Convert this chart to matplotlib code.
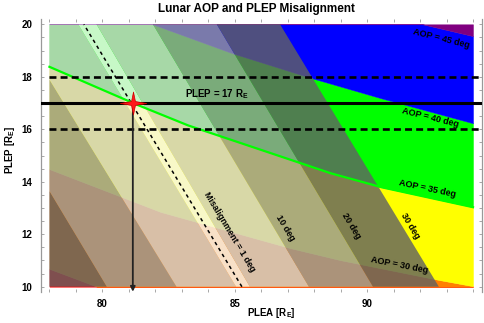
import numpy as np
import matplotlib
matplotlib.use('Agg')
import matplotlib.pyplot as plt
from matplotlib.ticker import MultipleLocator
from matplotlib.path import Path

plt.rcParams['font.family'] = ['Liberation Sans', 'DejaVu Sans']
plt.rcParams['font.weight'] = 'bold'
plt.rcParams['mathtext.fontset'] = 'custom'
plt.rcParams['mathtext.bf'] = 'Liberation Sans:bold'
plt.rcParams['mathtext.rm'] = 'Liberation Sans:bold'
plt.rcParams['mathtext.default'] = 'bf'
plt.rcParams['lines.scale_dashes'] = False

# ---------------- data ----------------
plea_range = [78.0, 94.0]
plep_range = [10.0, 20.0]

# AOP boundary curves (PLEP as a function of PLEA)
aop25_plea = [78.0, 79.8]
aop25_plep = [10.68, 10.0]
aop30_plea = [78.0, 82.2, 87.1, 89.0, 92.75, 94.0]
aop30_plep = [14.48, 12.85, 11.47, 11.01, 10.25, 10.02]
aop35_plea = [78.0, 81.15, 83.2, 88.6, 90.5, 94.0]
aop35_plep = [18.38, 17.0, 16.16, 14.33, 13.8, 13.03]
aop40_plea = [81.9, 84.9, 87.9, 90.5, 94.0]
aop40_plep = [20.0, 18.9, 17.95, 17.19, 16.23]
aop45_plea = [92.1, 94.0]
aop45_plep = [20.0, 19.55]
aop_colors = ['#ff0000', '#ff8000', '#ffff00', '#00ff00', '#0000ff', '#800080']

# misalignment boundaries: PLEA at PLEP=20 (top) and PLEP=10 (bottom)
mis_top = [74.22, 76.72, 79.09, 79.78, 81.91, 84.32, 86.71]
mis_bot = [80.17, 82.80, 85.05, 85.57, 87.80, 90.22, 92.71]
zero_top, zero_bot = 79.30, 85.27
# shades of the bands: left of -20, -20..-10, -10..-1, |m|<1, 1..10, 10..20, 20..30
band_shades = ['#626262', '#989898', '#cfcfcf', '#f7f7f7', '#cfcfcf', '#989898', '#626262']
band_alpha = 0.81

star_plea, star_plep = 81.15, 17.0
plep_lines = [16.0, 17.0, 18.0]

labels = [
    ('AOP = 45 deg', 92.79, 19.44, -14),
    ('AOP = 40 deg', 92.37, 16.46, -14),
    ('AOP = 35 deg', 92.26, 13.72, -12),
    ('AOP = 30 deg', 91.20, 10.82, -11),
    ('Misalignment = 1 deg', 84.78, 12.08, -59),
    ('10 deg', 86.90, 12.23, -59),
    ('20 deg', 89.39, 12.31, -59),
    ('30 deg', 91.62, 12.31, -59),
]

# ---------------- figure ----------------
fig = plt.figure(figsize=(4.85, 3.23), dpi=100)
ax = fig.add_axes([0.0839, 0.0969, 0.9105, 0.8433])
xmin, xmax = 77.67, 94.35
ax.set_xlim(xmin, xmax)
ax.set_ylim(9.81, 20.19)

x = np.linspace(plea_range[0], plea_range[1], 401)
def curve(px, py):
    return np.clip(np.interp(x, px, py), plep_range[0], plep_range[1])

bounds = [np.full_like(x, plep_range[0]),
          curve(aop25_plea, aop25_plep),
          curve(aop30_plea, aop30_plep),
          curve(aop35_plea, aop35_plep),
          curve(aop40_plea, aop40_plep),
          curve(aop45_plea, aop45_plep),
          np.full_like(x, plep_range[1])]
for i, c in enumerate(aop_colors):
    ax.fill_between(x, bounds[i], bounds[i + 1], facecolor=c, edgecolor=c, lw=0.3, zorder=1)

y = np.linspace(plep_range[0], plep_range[1], 401)
def mline(top, bot):
    return bot + (top - bot) * (y - plep_range[0]) / (plep_range[1] - plep_range[0])

lines_x = [np.full_like(y, plea_range[0])] + [mline(t, b) for t, b in zip(mis_top, mis_bot)]
for i, sh in enumerate(band_shades):
    xl = np.clip(lines_x[i], plea_range[0], plea_range[1])
    xr = np.clip(lines_x[i + 1], plea_range[0], plea_range[1])
    ax.fill_betweenx(y, xl, xr, facecolor=sh, alpha=band_alpha, lw=0, zorder=2)

# zero-misalignment dashed line
ax.plot([zero_bot, zero_top], plep_range, color='k', lw=1.1, dashes=(2.5, 2.5), zorder=3)

# AOP = 35 curve
ax.plot(x, bounds[3], color='#00ff00', lw=1.6, zorder=4)

# PLEP lines
ax.axhline(plep_lines[1], color='k', lw=2.2, zorder=5)
for v in (plep_lines[0], plep_lines[2]):
    ax.plot([plea_range[0], xmax], [v, v], color='k', lw=1.9, dashes=(5, 3), zorder=5, clip_on=False)

# arrow and star
ax.annotate('', xy=(star_plea, 9.81), xytext=(star_plea, star_plep),
            arrowprops=dict(arrowstyle='-|>', color='#222222', lw=1.3, mutation_scale=7,
                            shrinkA=0, shrinkB=0), zorder=6)
r = 0.17
star_path = Path([(0, 1), (r, r), (1.15, 0), (r, -r), (0, -1), (-r, -r), (-1.15, 0), (-r, r), (0, 1)],
                 [Path.MOVETO] + [Path.LINETO] * 7 + [Path.CLOSEPOLY])
ax.plot([star_plea], [star_plep], marker=star_path, markersize=19, color='#ff1a1a',
        mec='#d00000', mew=0.5, zorder=7)

for txt, tx, ty, rot in labels:
    ax.text(tx, ty, txt, fontsize=6.5, fontweight='bold', rotation=rot,
            ha='center', va='center', rotation_mode='anchor', zorder=8)
ax.text(84.33, 17.34, 'PLEP = 17 R$_E$', fontsize=7, fontweight='bold',
        ha='center', va='center', zorder=8)

# axes styling
ax.xaxis.set_major_locator(MultipleLocator(5))
ax.xaxis.set_minor_locator(MultipleLocator(1))
ax.yaxis.set_major_locator(MultipleLocator(2))
ax.yaxis.set_minor_locator(MultipleLocator(0.5))
ax.tick_params(which='both', direction='in', length=2, width=0.6, color='#999999',
               top=True, right=True)
ax.tick_params(axis='x', labelsize=7, pad=5)
ax.tick_params(axis='y', labelsize=7, pad=6)
for lab in ax.get_xticklabels() + ax.get_yticklabels():
    lab.set_fontweight('bold')
for s in ('top', 'bottom'):
    ax.spines[s].set_visible(False)
for s in ('left', 'right'):
    ax.spines[s].set_color('#999999')
    ax.spines[s].set_linewidth(0.9)

fig.text(271 / 485, 1 - 313 / 323, 'PLEA [R$_E$]', fontsize=7, fontweight='bold',
         ha='center', va='center')
fig.text(10 / 485, 1 - 150 / 323, 'PLEP [R$_E$]', fontsize=7, fontweight='bold',
         ha='center', va='center', rotation=90)
fig.text(256 / 485, 1 - 9 / 323, 'Lunar AOP and PLEP Misalignment', fontsize=8.5,
         fontweight='bold', ha='center', va='center')

fig.savefig('out.png', dpi=100)
